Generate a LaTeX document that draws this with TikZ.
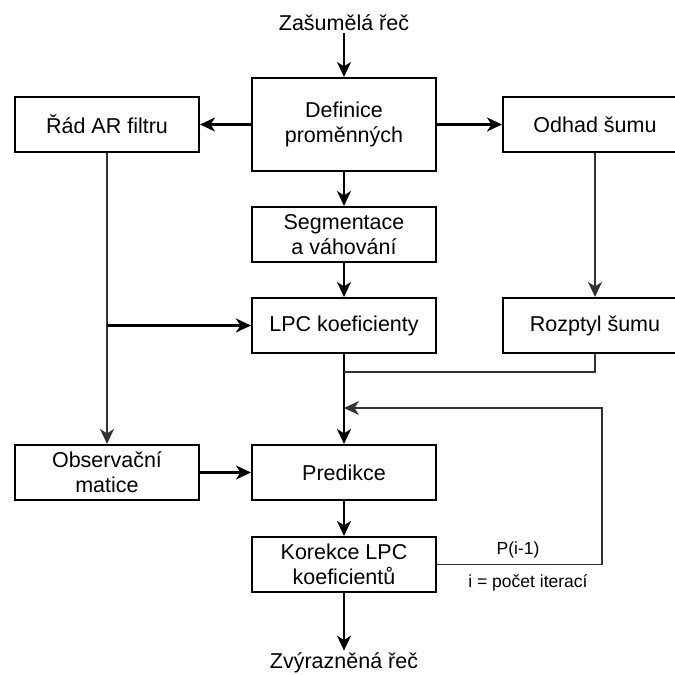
\documentclass[tikz,border=0pt]{standalone}
\usepackage{fontspec}
\setmainfont{Liberation Sans}
\usetikzlibrary{arrows.meta}
\begin{document}
\begin{tikzpicture}[x=1pt,y=-1pt,
  box/.style={draw, line width=2.1pt, minimum width=184pt, minimum height=55pt,
    inner sep=0pt, align=center, font=\fontsize{21.5}{25}\selectfont},
  lbl/.style={font=\fontsize{21.5}{25}\selectfont, inner sep=2pt},
  small/.style={font=\fontsize{17.5}{21}\selectfont, inner sep=0pt},
  tip/.style={-{Stealth[length=15pt,width=14pt,inset=4.5pt]}},
  arr/.style={line width=2.1pt, tip},
  thinln/.style={line width=1.5pt, draw=black!80},
  thinarr/.style={thinln, tip}
]
\useasboundingbox (0,0) rectangle (675,675);
\node[lbl] (in) at (344,23) {Zašumělá řeč};
\node[box, minimum height=93pt] (def) at (344,124.5) {Definice\\proměnných};
\node[box] (rad) at (107,124.5) {Řád AR filtru};
\node[box] (odh) at (595,124.5) {Odhad šumu};
\node[box] (seg) at (344,234.5) {Segmentace\\a váhování};
\node[box] (lpc) at (344,325.5) {LPC koeficienty};
\node[box] (roz) at (595,325.5) {Rozptyl šumu};
\node[box] (obs) at (107,472.5) {Observační\\matice};
\node[box] (pred) at (344,472.5) {Predikce};
\node[box] (kor) at (344,564.5) {Korekce LPC\\koeficientů};
\node[lbl] (out) at (344,663) {Zvýrazněná řeč};
\node[small] (p) at (518,550) {P(i-1)};
\node[small] (it) at (528,583) {i = počet iterací};

\coordinate (br) at (rad.south |- lpc.west);
\coordinate (j) at (344,372);
\coordinate (fb) at (602,408);
\coordinate (fe) at (344,408);

\draw[arr] (in.south) -- (def.north);
\draw[arr] (def.west) -- (rad.east);
\draw[arr] (def.east) -- (odh.west);
\draw[arr] (def.south) -- (seg.north);
\draw[arr] (seg.south) -- (lpc.north);
\draw[thinarr] (odh.south) -- (roz.north);
\draw[thinarr] (rad.south) -- (obs.north);
\draw[arr, line width=2.6pt] (br) -- (lpc.west);
\draw[arr] (lpc.south) -- (pred.north);
\draw[thinln] (roz.south) |- (j);
\draw[thinarr] (kor.east) -| (fb) -- (fe);
\draw[arr] (obs.east) -- (pred.west);
\draw[arr] (pred.south) -- (kor.north);
\draw[arr] (kor.south) -- (out.north);
\end{tikzpicture}
\end{document}
